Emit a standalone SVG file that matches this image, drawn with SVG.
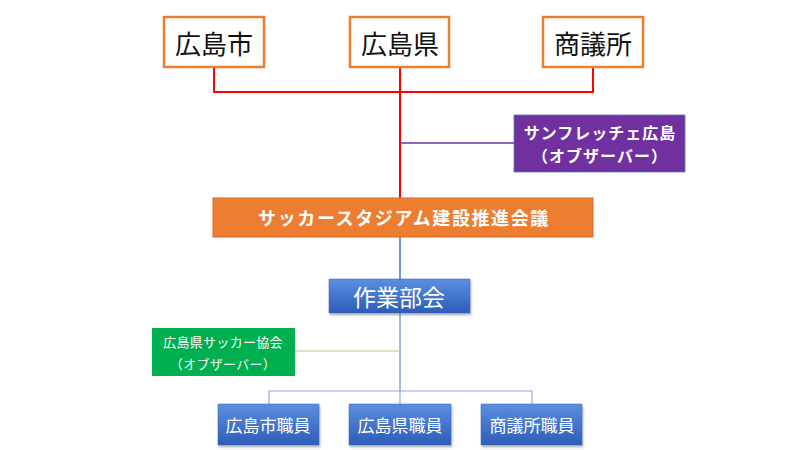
<svg xmlns="http://www.w3.org/2000/svg" width="800" height="450" viewBox="0 0 800 450">
<defs>
<linearGradient id="blueg" x1="0" y1="0" x2="0" y2="1">
<stop offset="0" stop-color="#5b8ee0"/>
<stop offset="1" stop-color="#2d5db8"/>
</linearGradient>
<filter id="sh" x="-10%" y="-10%" width="130%" height="140%">
<feDropShadow dx="1" dy="2" stdDeviation="1.2" flood-color="#000" flood-opacity="0.3"/>
</filter>
</defs>
<style>
text{font-family:"Noto Sans CJK JP","Noto Sans",sans-serif;text-anchor:middle;dominant-baseline:central}
.top rect{fill:#fff;stroke:#ED7D31;stroke-width:2.5}
.top text{font-size:26px;fill:#111}
.blue rect{fill:url(#blueg);stroke:#3a66b8;stroke-width:0.5;filter:url(#sh)}
.blue text{fill:#fff}
.w{fill:#fff}
</style>
<rect width="800" height="450" fill="#fff"/>
<g id="connectors" fill="none">
<path d="M214 67V92H593V67M400 67V199" stroke="#ff0000" stroke-width="2"/>
<path d="M400 143H514" stroke="#7030A0" stroke-width="1.5"/>
<path d="M400 237V279" stroke="#4472C4" stroke-width="1.5"/>
<path d="M400 313V391" stroke="#4472C4" stroke-width="1"/>
<path d="M295 351H400" stroke="#a9d18e" stroke-width="1"/>
<path d="M269 404V391H532V404M400 391V404" stroke="#8faadc" stroke-width="1.2"/>
</g>
<g id="hiroshima-city" class="top"><rect x="164" y="17" width="100" height="50"/><text x="214" y="42">広島市</text></g>
<g id="hiroshima-pref" class="top"><rect x="350" y="17" width="99" height="50"/><text x="400" y="42">広島県</text></g>
<g id="chamber" class="top"><rect x="543" y="17" width="100" height="50"/><text x="593" y="42">商議所</text></g>
<g id="sanfrecce"><rect x="514" y="115" width="171" height="57" fill="#7030A0" stroke="#5b7bb5" stroke-width="0.8"/><text x="600" y="132" class="w" font-size="16" font-weight="bold" letter-spacing="1">サンフレッチェ広島</text><text x="600" y="155" class="w" font-size="16" font-weight="bold" letter-spacing="1">（オブザーバー）</text></g>
<g id="council"><rect x="213" y="198" width="380" height="39" fill="#ED7D31" stroke="#d86a20" stroke-width="1"/><text x="404" y="217" class="w" font-size="18" font-weight="bold" letter-spacing="1.6">サッカースタジアム建設推進会議</text></g>
<g id="working-group" class="blue"><rect x="329" y="279" width="141" height="34"/><text x="399" y="296" font-size="23">作業部会</text></g>
<g id="fa"><rect x="152" y="328" width="143" height="48" fill="#00B050"/><text x="223" y="341" class="w" font-size="13" letter-spacing="0.3">広島県サッカー協会</text><text x="223" y="363" class="w" font-size="13" letter-spacing="0.3">（オブザーバー）</text></g>
<g id="city-staff" class="blue"><rect x="218" y="404" width="101" height="41"/><text x="268" y="424" font-size="17">広島市職員</text></g>
<g id="pref-staff" class="blue"><rect x="349" y="404" width="102" height="41"/><text x="400" y="424" font-size="17">広島県職員</text></g>
<g id="chamber-staff" class="blue"><rect x="481" y="404" width="101" height="41"/><text x="532" y="424" font-size="17">商議所職員</text></g>
</svg>
